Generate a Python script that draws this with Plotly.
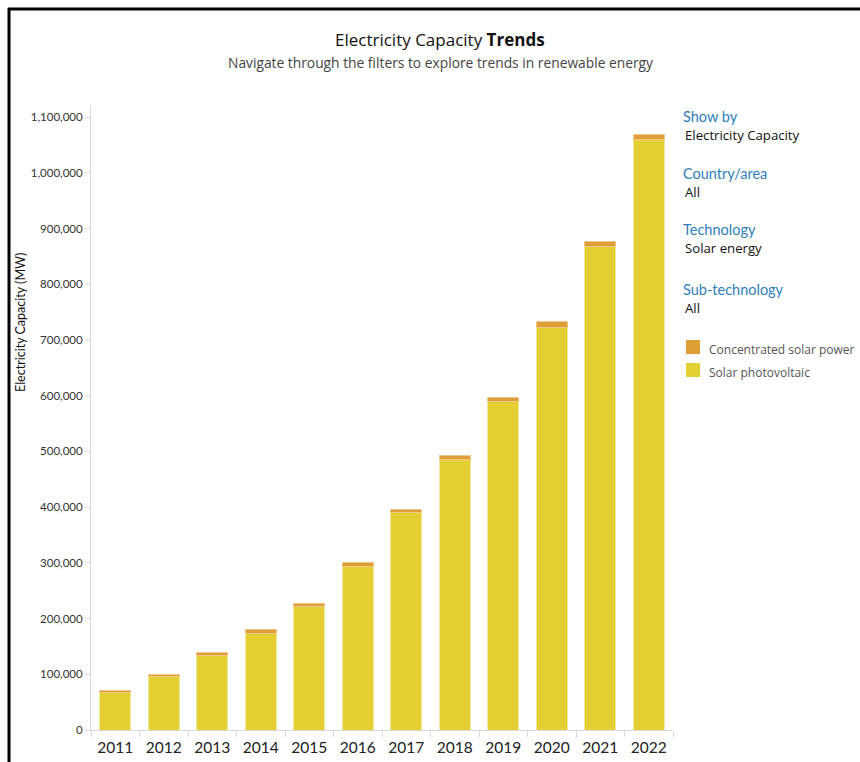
import plotly.graph_objects as go

years = ["2011", "2012", "2013", "2014", "2015", "2016", "2017", "2018", "2019", "2020", "2021", "2022"]
solar_pv = [66500, 95500, 133000, 172500, 221500, 293500, 389500, 485000, 589000, 723000, 868500, 1060000]
csp = [5000, 4500, 6500, 7000, 6000, 7500, 7000, 8000, 8500, 10000, 8500, 8500]
y_ticks = [0, 100000, 200000, 300000, 400000, 500000, 600000, 700000, 800000, 900000, 1000000, 1100000]
series_names = ["Concentrated solar power", "Solar photovoltaic"]
series_colors = ["#DE9E36", "#E4CF32"]
filters = [("Show by", "Electricity Capacity"), ("Country/area", "All"),
           ("Technology", "Solar energy"), ("Sub-technology", "All")]

W, H = 860, 762
L, R, T, B = 91, 673, 106, 730


def px(x):
    return (x - L) / (R - L)


def py(y):
    return (B - y) / (B - T)


FONT = "Lato"
FONT2 = "Open Sans"
BLUE = "#2e7ebc"

fig = go.Figure()
fig.add_trace(go.Bar(
    x=years, y=solar_pv, name=series_names[1],
    marker=dict(color=series_colors[1], line=dict(color="#F3E79F", width=1)),
    width=0.64, showlegend=False,
))
fig.add_trace(go.Bar(
    x=years, y=csp, name=series_names[0],
    marker=dict(color=series_colors[0], line=dict(color="#F0C98A", width=1)),
    width=0.64, showlegend=False,
))

annotations = [
    dict(text="Electricity Capacity <b>Trends</b>", x=px(440), y=py(40), xanchor="center", yanchor="middle",
         font=dict(size=17, color="#111", family=FONT2)),
    dict(text="Navigate through the filters to explore trends in renewable energy", x=px(440), y=py(62),
         xanchor="center", yanchor="middle", font=dict(size=13.8, color="#444", family=FONT2)),
    dict(text="Electricity Capacity (MW)", x=px(20), y=py(323), textangle=-90, xanchor="center", yanchor="middle",
         font=dict(size=12.5, color="#111", family=FONT)),
]
split_ys = [125.5, 182.5, 238.5, 298.5]
for (head, val), sy in zip(filters, split_ys):
    annotations.append(dict(text=head, x=px(682), y=py(sy + 0.5), xanchor="left", yanchor="bottom", borderpad=0,
                            font=dict(size=14.5, color=BLUE, family=FONT)))
    annotations.append(dict(text=val, x=px(684), y=py(sy - 0.5), xanchor="left", yanchor="top", borderpad=0,
                            font=dict(size=13.2, color="#111", family=FONT2)))

shapes = [
    dict(type="line", xref="paper", yref="paper", x0=px(8), x1=px(870), y0=py(9), y1=py(9),
         line=dict(color="black", width=3)),
    dict(type="line", xref="paper", yref="paper", x0=px(9), x1=px(9), y0=py(8), y1=py(775),
         line=dict(color="black", width=3)),
]

# manual legend
for i, (nm, col) in enumerate(zip(series_names, series_colors)):
    top = 340 + i * 23
    shapes.append(dict(type="rect", xref="paper", yref="paper", x0=px(686), x1=px(700),
                       y0=py(top), y1=py(top + 14), fillcolor=col, line=dict(width=0)))
    annotations.append(dict(text=nm, x=px(707), y=py(top + 9), xanchor="left", yanchor="middle",
                            font=dict(size=12, color="#555", family=FONT2)))

for a in annotations:
    a.update(xref="paper", yref="paper", showarrow=False)

fig.update_layout(
    width=W, height=H,
    margin=dict(l=L, r=W - R, t=T, b=H - B, pad=0),
    paper_bgcolor="white", plot_bgcolor="white",
    barmode="stack", bargap=0.36,
    font=dict(family=FONT, color="#333"),
    annotations=annotations, shapes=shapes,
    showlegend=False,
    xaxis=dict(type="category", showline=True, linecolor="#d9d9d9", linewidth=1, ticks="outside",
               tickson="boundaries", ticklen=6, tickcolor="#d9d9d9", showgrid=False,
               ticklabelstandoff=3,
               tickfont=dict(size=15.5, color="#222", family=FONT), fixedrange=True, automargin=False),
    yaxis=dict(range=[0, 1120000], tickvals=y_ticks, ticktext=[f"{v:,}" for v in y_ticks],
               showline=True, linecolor="#d9d9d9", linewidth=1, ticks="outside", ticklen=5,
               tickcolor="#d9d9d9", showgrid=False, zeroline=False,
               tickfont=dict(size=11.5, color="#333", family=FONT), fixedrange=True, automargin=False),
)

fig.write_html("out.html")
